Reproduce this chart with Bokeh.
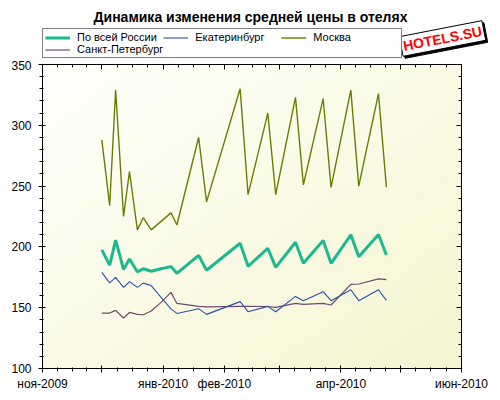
import numpy as np
import pandas as pd
from bokeh.plotting import figure
from bokeh.layouts import column
from bokeh.models import Range1d, LinearAxis, FixedTicker, Legend, LegendItem, Label
from bokeh.embed import file_html
from bokeh.resources import INLINE

# ---- data ----
dates = ["2009-12-01", "2009-12-05", "2009-12-08", "2009-12-12", "2009-12-15",
         "2009-12-19", "2009-12-22", "2009-12-26", "2009-12-31", "2010-01-05",
         "2010-01-08", "2010-01-19", "2010-01-23", "2010-02-09", "2010-02-13",
         "2010-02-23", "2010-02-27", "2010-03-09", "2010-03-13", "2010-03-23",
         "2010-03-27", "2010-04-06", "2010-04-10", "2010-04-20", "2010-04-24"]
russia = [197.6, 185.0, 205.5, 181.5, 190.0, 179.5, 182.0, 180.0, 182.0, 183.8,
          178.3, 193.0, 180.8, 203.0, 184.0, 198.9, 183.2, 203.8, 186.5, 205.2,
          186.5, 209.9, 192.0, 210.2, 193.4]
ekb = [179.1, 170.4, 175.0, 166.7, 171.4, 166.7, 170.2, 168.2, 158.5, 149.0,
       145.3, 149.2, 144.5, 155.0, 146.7, 151.1, 146.7, 159.3, 155.8, 163.2,
       155.8, 164.8, 155.8, 164.8, 156.0]
msk = [288, 234, 329, 225, 262, 214, 224, 214, 221, 228,
       218, 290, 237, 330, 243, 310, 243, 323, 251, 322,
       249, 329, 250, 326, 249]
spb = [145.6, 145.6, 147.8, 141.5, 146.1, 144.5, 144.2, 147.3, 154.4, 162.6,
       153.5, 151.1, 150.6, 151.1, 151.1, 151.0, 150.3, 153.6, 152.7, 153.6,
       152.2, 169.2, 169.5, 173.7, 173.1]
series_names = ["По всей России", "Екатеринбург", "Москва", "Санкт-Петербург"]
series_colors = ["#1DB98E", "#2A4FAE", "#667F00", "#6E4A6E"]
series_widths = [3, 1.1, 1.4, 1.2]
x_start, x_end = "2009-11-01", "2010-06-01"
month_labels = ["ноя-2009", "", "янв-2010", "фев-2010", "", "апр-2010", "", "июн-2010"]
y_ticks = [100, 150, 200, 250, 300, 350]
title_text = "Динамика изменения средней цены в отелях"
logo_text = "HOTELS.SU"

FONT = "Liberation Sans"
TOP_H = 60

t0 = pd.Timestamp(x_start)
t1 = pd.Timestamp(x_end)
xd = [int((pd.Timestamp(d) - t0).days) for d in dates]
series = [russia, ekb, msk, spb]

# ---- header: title, legend, logo ----
head = figure(width=500, height=TOP_H, x_range=Range1d(0, 500), y_range=Range1d(0, TOP_H),
              output_backend="svg", toolbar_location=None, min_border=0,
              x_axis_location=None, y_axis_location=None)
head.frame_align = False
head.grid.visible = False
head.outline_line_color = None
head.background_fill_color = "white"
head.border_fill_color = "white"

head.add_layout(Label(x=250, y=TOP_H - 16, x_units="screen", y_units="screen", text=title_text,
                      text_align="center", text_baseline="middle", text_font=FONT,
                      text_font_size="14px", text_font_style="bold", text_color="black"))

# legend renderers: the series themselves, lying outside this header's visible range
legend_renderers = [head.line(xd, ys, line_color=c, line_width=w)
                    for ys, c, w in zip(series, series_colors, series_widths)]
legend = Legend(items=[LegendItem(label=n, renderers=[r]) for n, r in zip(series_names, legend_renderers)],
                orientation="horizontal", ncols=3, location=(42, 2),
                margin=0, padding=2, spacing=0, label_standoff=7,
                glyph_width=25, glyph_height=11, label_height=11, label_width=86,
                label_text_font=FONT, label_text_font_size="11px", label_text_color="black",
                border_line_color="black", border_line_width=1,
                background_fill_color="white", background_fill_alpha=1.0)
head.add_layout(legend)

head.add_layout(Label(x=444, y=TOP_H - 40, x_units="screen", y_units="screen", text=logo_text,
                      angle=11, angle_units="deg", text_align="center", text_baseline="middle",
                      text_font=FONT, text_font_size="14px", text_font_style="bold",
                      text_color="black", background_fill_color="black",
                      border_line_color="black", padding=2, level="overlay"))
head.add_layout(Label(x=442, y=TOP_H - 38, x_units="screen", y_units="screen", text=logo_text,
                      angle=11, angle_units="deg", text_align="center", text_baseline="middle",
                      text_font=FONT, text_font_size="14px", text_font_style="bold",
                      text_color="#FF0000", background_fill_color="white",
                      border_line_color="black", padding=2, level="overlay"))

# ---- main chart ----
months = pd.date_range(t0, t1, freq="MS")
mticks = [int((m - t0).days) for m in months]
minor_x = []
for a, b in zip(mticks[:-1], mticks[1:]):
    minor_x += [a + (b - a) * k / 4 for k in range(1, 4)]
minor_y = [v for v in range(100, 351, 10) if v not in y_ticks]
xmax = int((t1 - t0).days)

p = figure(width=500, height=400 - TOP_H, x_range=Range1d(0, xmax),
           y_range=Range1d(y_ticks[0], y_ticks[-1]),
           output_backend="svg", toolbar_location=None,
           min_border_left=42, min_border_right=39, min_border_top=4, min_border_bottom=32)
p.frame_align = False
p.xgrid.visible = False
p.ygrid.visible = False
p.outline_line_color = None
p.background_fill_color = "white"
p.border_fill_color = "white"

# gradient background of plot area
H, W = 60, 90
yy, xx = np.mgrid[0:H, 0:W]
tt = (xx / (W - 1) + (1 - yy / (H - 1))) / 2.0
c0 = np.array([255, 255, 251])
c1 = np.array([246, 246, 210])
img = np.empty((H, W), dtype=np.uint32)
view = img.view(dtype=np.uint8).reshape((H, W, 4))
for k in range(3):
    view[:, :, k] = (c0[k] + (c1[k] - c0[k]) * tt).astype(np.uint8)
view[:, :, 3] = 255
p.image_rgba(image=[img], x=0, y=y_ticks[0], dw=xmax, dh=y_ticks[-1] - y_ticks[0])

xticker = FixedTicker(ticks=mticks, minor_ticks=minor_x)
yticker = FixedTicker(ticks=y_ticks, minor_ticks=minor_y)

xa = p.xaxis[0]
xa.ticker = xticker
xa.major_label_overrides = {t: lab for t, lab in zip(mticks, month_labels)}
ya = p.yaxis[0]
ya.ticker = yticker
for ax in (xa, ya):
    ax.axis_line_color = "black"
    ax.major_tick_line_color = "black"
    ax.minor_tick_line_color = "black"
    ax.major_tick_in = 3
    ax.major_tick_out = 4
    ax.minor_tick_in = 1
    ax.minor_tick_out = 3
    ax.major_label_text_font = FONT
    ax.major_label_text_font_size = "12px"
    ax.major_label_text_color = "black"
xa.major_label_standoff = 4
ya.major_label_standoff = 7

top = LinearAxis(ticker=xticker, major_label_overrides={t: "" for t in mticks})
right = LinearAxis(ticker=yticker, major_label_overrides={t: "" for t in y_ticks})
for ax in (top, right):
    ax.major_tick_in = 5
    ax.major_tick_out = 0
    ax.minor_tick_in = 3
    ax.minor_tick_out = 0
    ax.major_label_standoff = 0
    ax.axis_line_color = "black"
    ax.major_tick_line_color = "black"
    ax.minor_tick_line_color = "black"
p.add_layout(top, "above")
p.add_layout(right, "right")

for i in [3, 1, 2, 0]:
    p.line(xd, series[i], line_color=series_colors[i], line_width=series_widths[i])

layout = column(head, p, spacing=0)
open("out.html", "w").write(file_html(layout, INLINE))
